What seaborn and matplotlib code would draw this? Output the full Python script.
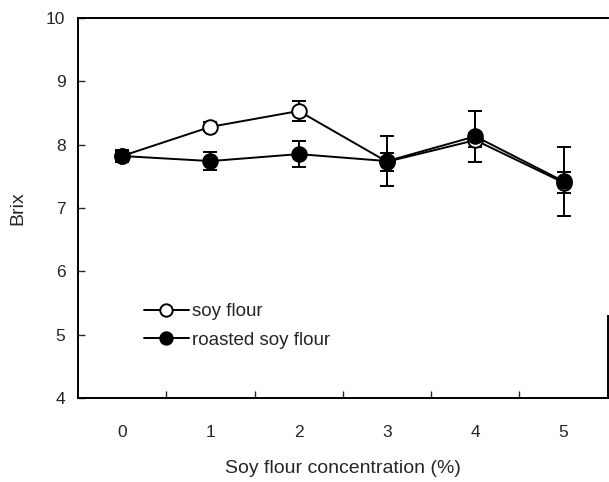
import matplotlib
matplotlib.use("Agg")
import matplotlib.pyplot as plt
import seaborn as sns
import pandas as pd
import numpy as np

concentration = [0, 1, 2, 3, 4, 5]
soy_flour = [7.82, 8.28, 8.53, 7.73, 8.07, 7.40]
soy_flour_err = [0.08, 0.07, 0.15, 0.14, 0.11, 0.16]
roasted_soy_flour = [7.82, 7.74, 7.85, 7.74, 8.13, 7.42]
roasted_soy_flour_err = [0.10, 0.14, 0.21, 0.39, 0.40, 0.55]
x_ticklabels = ["0", "1", "2", "3", "4", "5"]
y_ticks = [4, 5, 6, 7, 8, 9, 10]

sns.set_theme(style="white")
plt.rcParams['font.family'] = ['Liberation Sans', 'DejaVu Sans']

df = pd.DataFrame({
    "conc": concentration * 2,
    "brix": soy_flour + roasted_soy_flour,
    "err": soy_flour_err + roasted_soy_flour_err,
    "series": ["soy flour"] * 6 + ["roasted soy flour"] * 6,
})

fig = plt.figure(figsize=(6.09, 4.82), dpi=100)
ax = fig.add_axes([0.128, 0.174, 0.870, 0.789])

styles = {
    "soy flour": dict(mfc="white"),
    "roasted soy flour": dict(mfc="black"),
}
for name in ["roasted soy flour", "soy flour"]:
    sub = df[df["series"] == name]
    ax.errorbar(sub["conc"], sub["brix"], yerr=sub["err"], fmt="none",
                ecolor="black", elinewidth=1.4, capsize=5, capthick=1.4, zorder=2)

for name in ["soy flour", "roasted soy flour"]:
    sub = df[df["series"] == name]
    sns.lineplot(data=sub, x="conc", y="brix", ax=ax, color="black",
                 linewidth=1.4, marker="o", markersize=10.5,
                 markerfacecolor=styles[name]["mfc"], markeredgecolor="black",
                 markeredgewidth=1.4, label=name, zorder=3)

ax.set_xlim(-0.5, 5.5)
ax.set_ylim(4, 10)
ax.set_xticks(concentration)
ax.set_xticklabels(x_ticklabels)
ax.set_xticks([0.5, 1.5, 2.5, 3.5, 4.5], minor=True)
ax.set_yticks(y_ticks)
ax.tick_params(axis="x", which="major", length=0, pad=19, labelsize=12.5)
ax.tick_params(axis="x", which="minor", direction="in", length=5, width=1, bottom=True)
ax.tick_params(axis="y", direction="in", length=5, width=1, left=True, labelsize=12.5, pad=9)

for s in ax.spines.values():
    s.set_color("black")
    s.set_linewidth(1.4)
ax.spines["right"].set_bounds(4, 5.3)

ax.set_xlabel("Soy flour concentration (%)", fontsize=14, labelpad=15)
ax.set_ylabel("Brix", fontsize=14, labelpad=14)

leg = ax.legend(loc="lower left", bbox_to_anchor=(0.092, 0.085), frameon=False,
                fontsize=13.5, handlelength=2.4, handletextpad=0.2, labelspacing=0.62,
                markerscale=0.85)

fig.savefig("out.png", dpi=100)
